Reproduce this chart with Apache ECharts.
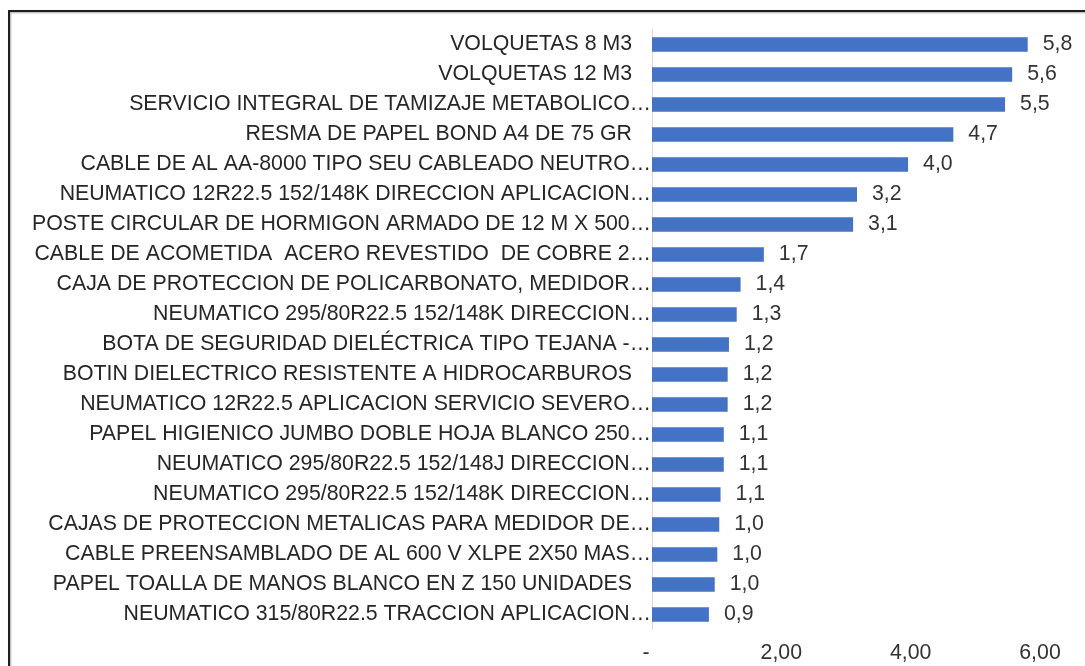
<!DOCTYPE html>
<html>
<head>
<meta charset="utf-8">
<script src="https://cdn.jsdelivr.net/npm/echarts@6/dist/echarts.min.js"></script>
<style>
  html, body { margin: 0; padding: 0; background: #fff; }
  #main { width: 1085px; height: 666px; }
</style>
</head>
<body>
<div id="main"></div>
<script>
// categorias (de arriba hacia abajo)
var categorias = [
    'VOLQUETAS 8 M3',
    'VOLQUETAS 12 M3',
    'SERVICIO INTEGRAL DE TAMIZAJE METABOLICO\u2026',
    'RESMA DE PAPEL BOND A4 DE 75 GR',
    'CABLE DE AL AA-8000 TIPO SEU CABLEADO NEUTRO\u2026',
    'NEUMATICO 12R22.5 152/148K DIRECCION APLICACION\u2026',
    'POSTE CIRCULAR DE HORMIGON ARMADO DE 12 M X 500\u2026',
    'CABLE DE ACOMETIDA  ACERO REVESTIDO  DE COBRE 2\u2026',
    'CAJA DE PROTECCION DE POLICARBONATO, MEDIDOR\u2026',
    'NEUMATICO 295/80R22.5 152/148K DIRECCION\u2026',
    'BOTA DE SEGURIDAD DIEL\u00c9CTRICA TIPO TEJANA -\u2026',
    'BOTIN DIELECTRICO RESISTENTE A HIDROCARBUROS',
    'NEUMATICO 12R22.5 APLICACION SERVICIO SEVERO\u2026',
    'PAPEL HIGIENICO JUMBO DOBLE HOJA BLANCO 250\u2026',
    'NEUMATICO 295/80R22.5 152/148J DIRECCION\u2026',
    'NEUMATICO 295/80R22.5 152/148K DIRECCION\u2026',
    'CAJAS DE PROTECCION METALICAS PARA MEDIDOR DE\u2026',
    'CABLE PREENSAMBLADO DE AL 600 V XLPE 2X50 MAS\u2026',
    'PAPEL TOALLA DE MANOS BLANCO EN Z 150 UNIDADES',
    'NEUMATICO 315/80R22.5 TRACCION APLICACION\u2026'
];
var valores = [5.81, 5.57, 5.46, 4.66, 3.96, 3.17, 3.11, 1.73, 1.37, 1.31,
               1.19, 1.17, 1.17, 1.11, 1.11, 1.06, 1.04, 1.01, 0.97, 0.88];
// eje X: 0 ("-"), 2,00, 4,00, 6,00
var ejeMin = 0, ejeMax = 6, ejePaso = 2;

var fuente = '"Liberation Sans", Arial, sans-serif';
var tam = 21.3;

var chart = echarts.init(document.getElementById('main'));
var option = {
    backgroundColor: '#fff',
    animation: false,
    graphic: [{
        type: 'rect',
        shape: { x: 9, y: 11, width: 1200, height: 800 },
        style: { fill: 'none', stroke: '#1e1e1e', lineWidth: 2,
                 shadowColor: 'rgba(0,0,0,0.35)', shadowBlur: 2, shadowOffsetX: 1, shadowOffsetY: 1 },
        z: 100
    }],
    grid: { left: 652, right: 45, top: 29.5, bottom: 36.5, containLabel: false },
    xAxis: {
        type: 'value',
        min: ejeMin,
        max: ejeMax,
        interval: ejePaso,
        axisLine: { show: false },
        axisTick: { show: false },
        splitLine: { show: false },
        axisLabel: {
            margin: 13,
            fontFamily: fuente,
            fontSize: tam,
            color: '#333',
            formatter: function (v) {
                if (v === 0) return '-  ';
                return v.toFixed(2).replace('.', ',');
            }
        }
    },
    yAxis: {
        type: 'category',
        inverse: true,
        data: categorias,
        axisLine: { show: true, lineStyle: { color: '#d9d9d9', width: 1 } },
        axisTick: { show: false },
        axisLabel: {
            margin: 1,
            fontFamily: fuente,
            fontSize: tam,
            color: '#262626',
            formatter: function (v) {
                if (v.charAt(v.length - 1) === '\u2026') return v;
                return '{p|' + v + '}';
            },
            rich: {
                p: { fontFamily: fuente, fontSize: tam, color: '#262626', padding: [0, 19, 0, 0] }
            }
        }
    },
    series: [{
        type: 'bar',
        data: valores,
        barWidth: '49%',
        itemStyle: { color: '#4472c4' },
        label: {
            show: true,
            position: 'right',
            distance: 15,
            fontFamily: fuente,
            fontSize: tam,
            color: '#333',
            formatter: function (p) {
                return p.value.toFixed(1).replace('.', ',');
            }
        }
    }]
};
chart.setOption(option);
</script>
</body>
</html>
